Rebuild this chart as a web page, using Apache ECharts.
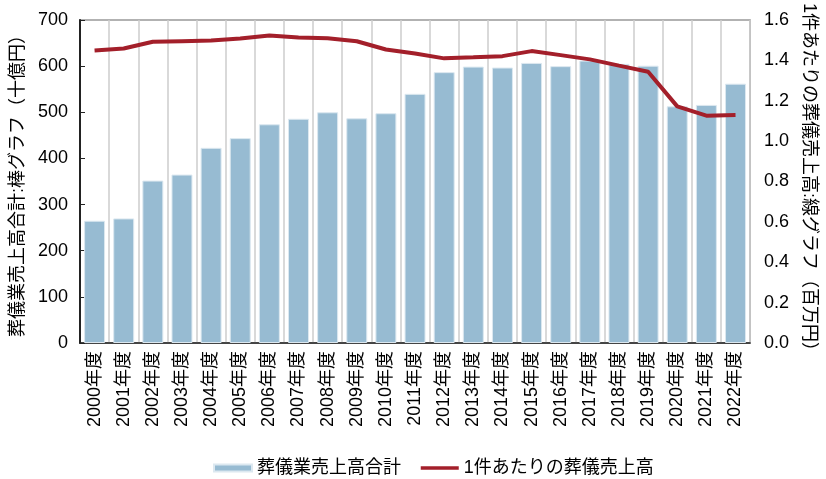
<!DOCTYPE html>
<html><head><meta charset="utf-8">
<script src="https://cdn.jsdelivr.net/npm/echarts@6/dist/echarts.min.js"></script>
<style>html,body{margin:0;padding:0;background:#fff}#c{width:826px;height:479px}</style>
</head><body><div id="c"></div>
<script>
const categories = ["2000年度","2001年度","2002年度","2003年度","2004年度","2005年度","2006年度","2007年度","2008年度","2009年度","2010年度","2011年度","2012年度","2013年度","2014年度","2015年度","2016年度","2017年度","2018年度","2019年度","2020年度","2021年度","2022年度"];
const salesTotal = [265, 270, 352, 365, 423, 444, 474, 486, 500, 487, 498, 540, 587, 599, 597, 607, 600, 612, 605, 601, 513, 516, 562];
const perFuneral = [1.449, 1.459, 1.492, 1.495, 1.498, 1.508, 1.523, 1.513, 1.510, 1.495, 1.454, 1.434, 1.410, 1.415, 1.421, 1.446, 1.426, 1.405, 1.374, 1.344, 1.172, 1.126, 1.129];
const leftTicks = [0, 100, 200, 300, 400, 500, 600, 700];
const rightTicks = [0, 0.2, 0.4, 0.6, 0.8, 1.0, 1.2, 1.4, 1.6];
const barName = "葬儀業売上高合計";
const lineName = "1件あたりの葬儀売上高";

const FF = '"Liberation Sans", Arial, "Noto Sans CJK JP", sans-serif';
const chart = echarts.init(document.getElementById('c'));
chart.setOption({
  animation: false,
  textStyle: { fontFamily: FF, color: '#000' },
  grid: { left: 80, right: 63, top: 18, bottom: 136, show: true, borderColor: '#999', borderWidth: 1.5, containLabel: false },
  legend: {
    top: 454, left: 208, itemWidth: 38, itemHeight: 7, itemGap: 18,
    textStyle: { fontSize: 18, fontFamily: FF, color: '#000' },
    data: [{ name: barName, icon: 'rect' }, { name: lineName, itemStyle: { opacity: 0 }, lineStyle: { width: 3.5 } }]
  },
  xAxis: {
    type: 'category', data: categories,
    axisLine: { lineStyle: { color: '#222', width: 1.5 } },
    axisTick: { inside: true, length: 4, lineStyle: { color: '#222' } },
    axisLabel: { rotate: 90, fontSize: 18, color: '#000', margin: 8, interval: 0 },
    splitLine: { show: true, lineStyle: { color: '#ccc', width: 1.5 } }
  },
  yAxis: [{
    type: 'value', min: leftTicks[0], max: leftTicks[leftTicks.length - 1], interval: 100,
    name: "葬儀業売上高合計:棒グラフ（十億円）", nameLocation: 'middle', nameGap: 52, nameRotate: 90,
    nameTextStyle: { fontSize: 18, color: '#000' },
    axisLine: { show: true, lineStyle: { color: '#222', width: 2 } },
    axisTick: { show: true, inside: true, length: 5, lineStyle: { color: '#222' } },
    axisLabel: { fontSize: 18, color: '#000', margin: 12 },
    splitLine: { show: false }
  }, {
    type: 'value', min: rightTicks[0], max: rightTicks[rightTicks.length - 1], interval: 0.2,
    name: "1件あたりの葬儀売上高:線グラフ（百万円）", nameLocation: 'middle', nameGap: 46, nameRotate: -90,
    nameTextStyle: { fontSize: 18, color: '#000' },
    axisLine: { show: false }, axisTick: { show: false },
    axisLabel: { fontSize: 18, color: '#000', margin: 14, formatter: v => v.toFixed(1) },
    splitLine: { show: false }
  }],
  series: [{
    name: barName, type: 'bar', data: salesTotal, yAxisIndex: 0, barCategoryGap: '28%',
    itemStyle: { color: '#97bbd2', borderColor: '#dce8f0', borderWidth: 1 }
  }, {
    name: lineName, type: 'line', data: perFuneral, yAxisIndex: 1, symbol: 'none',
    lineStyle: { color: '#a31f2a', width: 4 }, itemStyle: { color: '#a31f2a' }
  }]
});
</script></body></html>
